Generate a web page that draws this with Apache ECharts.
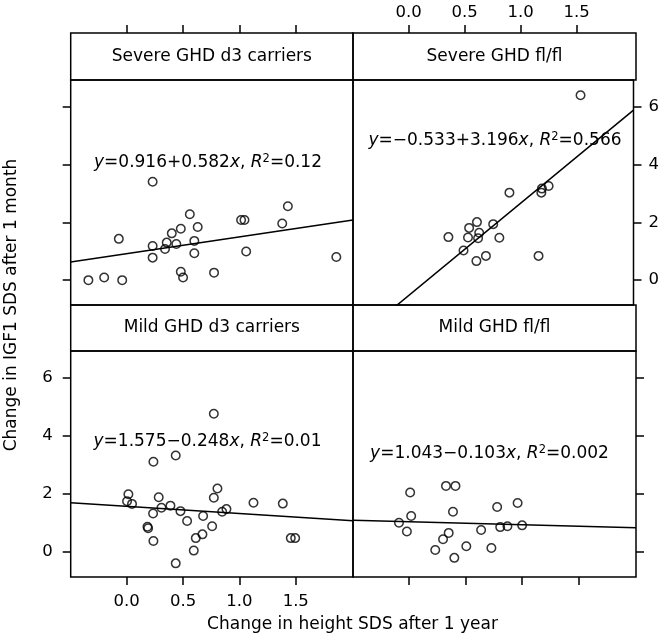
<!DOCTYPE html>
<html><head><meta charset="utf-8">
<script src="https://cdn.jsdelivr.net/npm/echarts@6/dist/echarts.min.js"></script>
<style>html,body{margin:0;padding:0;background:#fff}#c{width:662px;height:640px}</style>
</head><body><div id="c"></div>
<script>
const panelTitles = ['Severe GHD d3 carriers', 'Severe GHD fl/fl', 'Mild GHD d3 carriers', 'Mild GHD fl/fl'];

const severeD3 = [[-0.34,0.00],[-0.20,0.09],[-0.04,0.00],[-0.07,1.43],[0.23,3.41],[0.23,1.18],[0.23,0.78],
  [0.34,1.08],[0.355,1.30],[0.40,1.62],[0.44,1.25],[0.48,1.78],[0.56,2.28],[0.63,1.84],[0.60,1.36],
  [0.60,0.93],[0.48,0.29],[0.50,0.09],[0.775,0.26],[1.015,2.08],[1.045,2.08],[1.06,0.99],[1.38,1.96],
  [1.43,2.56],[1.86,0.80]];
const severeFl = [[0.355,1.49],[0.49,1.03],[0.53,1.48],[0.54,1.81],[0.61,2.01],[0.63,1.64],[0.62,1.45],
  [0.605,0.66],[0.69,0.84],[0.755,1.94],[0.81,1.47],[0.90,3.03],[1.16,0.84],[1.185,3.03],[1.19,3.17],
  [1.25,3.26],[1.535,6.40]];
const mildD3 = [[0.773,4.77],[0.435,3.33],[0.237,3.11],[0.015,1.99],[0.003,1.75],[0.047,1.66],[0.284,1.89],
  [0.234,1.33],[0.308,1.53],[0.388,1.60],[0.477,1.41],[0.536,1.07],[0.678,1.24],[0.773,1.87],[0.805,2.19],
  [0.847,1.39],[0.885,1.48],[0.758,0.89],[0.672,0.61],[0.613,0.48],[0.595,0.05],[0.435,-0.39],[0.237,0.38],
  [0.184,0.87],[0.19,0.82],[1.125,1.70],[1.385,1.67],[1.456,0.48],[1.495,0.48]];
const mildFl = [[0.009,2.05],[-0.09,1.01],[-0.02,0.71],[0.018,1.24],[0.326,2.28],[0.41,2.28],[0.388,1.39],
  [0.35,0.66],[0.30,0.44],[0.231,0.07],[0.40,-0.20],[0.506,0.20],[0.637,0.76],[0.728,0.14],[0.779,1.55],
  [0.806,0.86],[0.87,0.89],[0.96,1.69],[1.00,0.92]];

const intercepts = [0.916, -0.533, 1.575, 1.043];
const slopes = [0.582, 3.196, -0.248, -0.103];
const r2Labels = ['0.12', '0.566', '0.01', '0.002'];

const xTickValues = [0, 0.5, 1, 1.5];
const xTickLabels = ['0.0', '0.5', '1.0', '1.5'];
const yTickValues = [0, 2, 4, 6];
const yTickLabels = ['0', '2', '4', '6'];
const xLimits = [-0.497, 2.008];
const yLimits = [-0.86, 6.93];

const panelData = [severeD3, severeFl, mildD3, mildFl];
const FONT = 'DejaVu Sans';

const chart = echarts.init(document.getElementById('c'), null, {renderer: 'canvas'});

const grids = [], xAxes = [], yAxes = [], series = [], graphics = [];
const colLeft = [70.7, 353], colWidth = [282.3, 283];
const rowTop = [80, 351], rowHeight = [225, 226];
const stripTop = [33, 305];
const annotPos = [[208, 163], [495, 141], [207.5, 442], [489.5, 454]];

function fmtNum(v){ return v.toFixed(3); }
function annot(i){
  const a = intercepts[i], b = slopes[i];
  const aStr = (a < 0 ? '\u2212' : '') + fmtNum(Math.abs(a));
  const bStr = (b < 0 ? '\u2212' : '+') + fmtNum(Math.abs(b));
  return '{i|y}=' + aStr + bStr + '{i|x}, {i|R}{s|2}=' + r2Labels[i];
}

for (let i = 0; i < 4; i++) {
  const col = i % 2, row = Math.floor(i / 2);
  grids.push({left: colLeft[col], top: rowTop[row], width: colWidth[col], height: rowHeight[row],
    show: true, borderColor: '#000', borderWidth: 1.5, backgroundColor: 'transparent', containLabel: false});
  const xTop = row === 0;
  const xLabel = (i === 1 || i === 2);
  xAxes.push({type: 'value', gridIndex: i, min: xLimits[0], max: xLimits[1],
    position: xTop ? 'top' : 'bottom', offset: xTop ? 47 : 0,
    axisLine: {show: false, onZero: false}, splitLine: {show: false},
    axisTick: {show: true, inside: false, length: 8, customValues: xTickValues, lineStyle: {color: '#000', width: 1.5}},
    axisLabel: {show: xLabel, customValues: xTickValues, margin: xTop ? 12 : 16,
      formatter: v => xTickLabels[xTickValues.indexOf(+v.toFixed(2))] ?? '',
      color: '#000', fontSize: 16.5, fontFamily: FONT}});
  const yRight = col === 1;
  const yLabel = (i === 1 || i === 2);
  yAxes.push({type: 'value', gridIndex: i, min: yLimits[0], max: yLimits[1],
    position: yRight ? 'right' : 'left',
    axisLine: {show: false, onZero: false}, splitLine: {show: false},
    axisTick: {show: true, inside: false, length: 8, customValues: yTickValues, lineStyle: {color: '#000', width: 1.5}},
    axisLabel: {show: yLabel, customValues: yTickValues, margin: yRight ? 15 : 18,
      formatter: v => yTickLabels[yTickValues.indexOf(+v.toFixed(2))] ?? '',
      color: '#000', fontSize: 16.5, fontFamily: FONT}});
  series.push({type: 'scatter', xAxisIndex: i, yAxisIndex: i, data: panelData[i], symbol: 'circle', symbolSize: 8.5,
    itemStyle: {color: 'rgba(0,0,0,0)', borderColor: '#000', borderWidth: 1.5}, silent: true, z: 3});
  const x0 = xLimits[0], x1 = xLimits[1];
  series.push({type: 'line', xAxisIndex: i, yAxisIndex: i, clip: true, symbol: 'none', silent: true,
    data: [[x0, intercepts[i] + slopes[i] * x0], [x1, intercepts[i] + slopes[i] * x1]],
    lineStyle: {color: '#000', width: 1.5}, z: 2});
  graphics.push({type: 'rect', shape: {x: colLeft[col], y: stripTop[row], width: colWidth[col], height: rowTop[row] - stripTop[row]},
    style: {fill: 'none', stroke: '#000', lineWidth: 1.5}, z: 10});
  graphics.push({type: 'text', x: colLeft[col] + colWidth[col] / 2, y: (stripTop[row] + rowTop[row]) / 2,
    style: {text: panelTitles[i], fill: '#000', font: '17px "' + FONT + '"', align: 'center', verticalAlign: 'middle'}, z: 10});
  graphics.push({type: 'text', x: annotPos[i][0], y: annotPos[i][1],
    style: {text: annot(i), fill: '#000', fontSize: 17, fontFamily: FONT, align: 'center', verticalAlign: 'middle',
      lineHeight: 20,
      rich: {i: {fontStyle: 'italic', fontSize: 17, fontFamily: FONT, lineHeight: 20},
             s: {fontSize: 11.5, fontFamily: FONT, verticalAlign: 'top', lineHeight: 12}}}, z: 10});
}

graphics.push({type: 'text', x: 352.5, y: 625,
  style: {text: 'Change in height SDS after 1 year', fill: '#000', font: '17px "' + FONT + '"', align: 'center', verticalAlign: 'middle'}});
graphics.push({type: 'text', x: 12, y: 305, rotation: Math.PI / 2,
  style: {text: 'Change in IGF1 SDS after 1 month', fill: '#000', font: '17px "' + FONT + '"', align: 'center', verticalAlign: 'middle'}});

chart.setOption({
  animation: false,
  backgroundColor: '#fff',
  grid: grids, xAxis: xAxes, yAxis: yAxes, series: series, graphic: graphics
});
</script></body></html>
